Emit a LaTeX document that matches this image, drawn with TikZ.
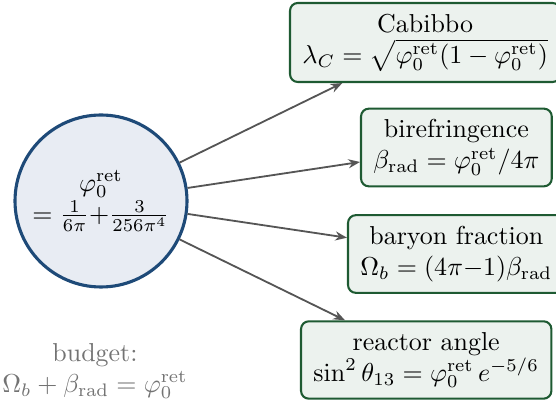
\documentclass[tikz,border=0pt]{standalone}
\usetikzlibrary{arrows.meta}
\definecolor{circfill}{RGB}{232,236,243}
\definecolor{circdraw}{RGB}{30,74,120}
\definecolor{boxfill}{RGB}{236,242,238}
\definecolor{boxdraw}{RGB}{30,90,50}
\definecolor{arrowc}{RGB}{85,85,85}
\definecolor{budgetc}{RGB}{115,115,115}
\begin{document}
\begin{tikzpicture}[x=0.3855pt,y=-0.3855pt,
 core/.style={circle,draw=circdraw,fill=circfill,line width=1.2pt,minimum size=66.3pt,inner sep=0pt,align=center},
 outbox/.style={draw=boxdraw,fill=boxfill,rounded corners=3pt,line width=0.8pt,align=center,inner xsep=4.8pt,inner ysep=4.2pt,anchor=west},
 link/.style={draw=arrowc,line width=0.7pt,-{Stealth[length=4.5pt,width=3.5pt]}},
 note/.style={text=budgetc,align=center}]
\useasboundingbox (0,0) rectangle (556,412);
\node[core] (c) at (101,201) {$\varphi_0^{\mathrm{ret}}$\\$=\frac{1}{6\pi}{+}\frac{3}{256\pi^4}$};
\node[outbox] (cab) at (289,42.5) {Cabibbo\\$\lambda_C=\sqrt{\varphi_0^{\mathrm{ret}}(1-\varphi_0^{\mathrm{ret}})}$};
\node[outbox] (bir) at (360,147.5) {birefringence\\$\beta_{\mathrm{rad}}=\varphi_0^{\mathrm{ret}}/4\pi$};
\node[outbox] (bar) at (347,254) {baryon fraction\\$\Omega_b=(4\pi{-}1)\beta_{\mathrm{rad}}$};
\node[outbox] (rea) at (300,360) {reactor angle\\$\sin^2\theta_{13}=\varphi_0^{\mathrm{ret}}\,e^{-5/6}$};
\node[note] (bud) at (95,371) {budget:\\$\Omega_b+\beta_{\mathrm{rad}}=\varphi_0^{\mathrm{ret}}$};
\draw[link] (c) -- (cab);
\draw[link] (c) -- (bir);
\draw[link] (c) -- (bar);
\draw[link] (c) -- (rea);
\end{tikzpicture}
\end{document}
